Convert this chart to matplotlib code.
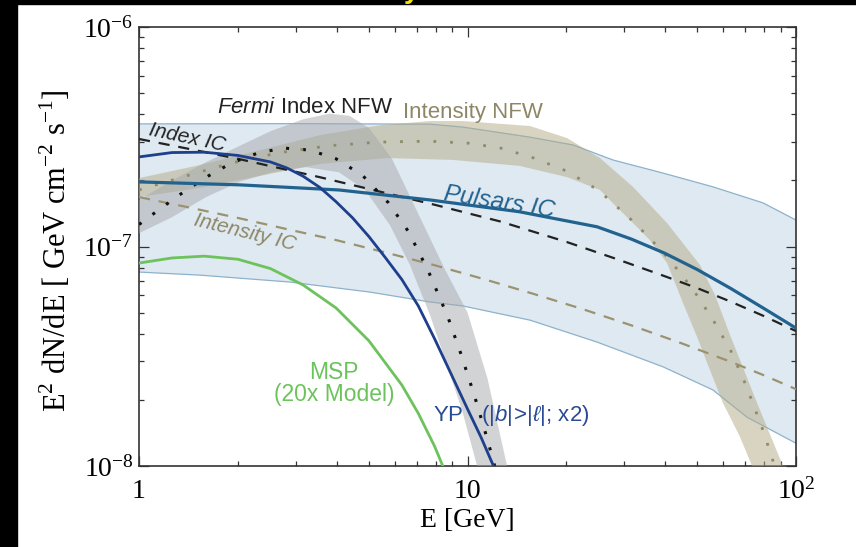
import matplotlib.pyplot as plt
import numpy as np
from matplotlib.patches import Rectangle

plt.rcParams['font.family'] = ['Liberation Serif', 'DejaVu Serif']
plt.rcParams['mathtext.fontset'] = 'custom'
plt.rcParams['mathtext.rm'] = 'Liberation Sans'
plt.rcParams['mathtext.it'] = 'Liberation Sans:italic'

# all fluxes are E^2 dN/dE in units of 1e-7 GeV cm^-2 s^-1, energies in GeV
UNIT = 1e-7

# pulsar IC uncertainty band
blue_hi_E = [1, 3.09, 7.69, 9.69, 15.5, 21.0, 27.7, 39.4, 55.9, 79.4, 100]
blue_hi_F = [3.62, 3.63, 3.61, 3.50, 3.15, 2.90, 2.48, 2.16, 1.87, 1.58, 1.32]
blue_lo_E = [1, 1.53, 2.88, 5.05, 7.69, 9.69, 15.5, 24.8, 39.4, 55.9, 70.9, 100]
blue_lo_F = [0.765, 0.741, 0.689, 0.620, 0.559, 0.536, 0.462, 0.367, 0.283, 0.222, 0.167, 0.127]

pulsars_E = [1, 2.02, 4.06, 7.69, 14.4, 24.8, 31.6, 39.8, 50.1, 63.1, 79.4, 100]
pulsars_F = [1.97, 1.91, 1.81, 1.63, 1.44, 1.23, 1.08, 0.933, 0.785, 0.646, 0.525, 0.425]

index_ic_E = [1, 1.41, 2.00, 3.55, 7.94, 12.6, 20.0, 28.2, 39.8, 50.1, 63.1, 79.4, 100]
index_ic_F = [3.09, 2.79, 2.51, 2.07, 1.55, 1.30, 1.05, 0.881, 0.733, 0.646, 0.562, 0.484, 0.412]

intensity_ic_E = [1, 1.41, 2.00, 2.82, 3.98, 5.62, 7.94, 11.2, 15.8, 22.4, 31.6, 44.7, 63.1, 79.4, 100]
intensity_ic_F = [1.68, 1.51, 1.35, 1.20, 1.07, 0.940, 0.822, 0.711, 0.610, 0.519, 0.437, 0.363, 0.299, 0.260, 0.224]

# Fermi index NFW band and its central spectrum
fermi_hi_E = [1, 1.26, 1.58, 2.00, 2.51, 3.16, 3.80, 4.37, 5.01, 5.89, 7.08, 8.51, 10.0, 11.5, 13.2]
fermi_hi_F = [1.63, 2.00, 2.40, 2.85, 3.35, 3.80, 4.03, 3.94, 3.47, 2.51, 1.41, 0.794, 0.501, 0.251, 0.100]
fermi_lo_E = [1, 1.26, 1.60, 2.02, 2.54, 3.22, 4.06, 4.88, 5.81, 6.68, 7.69, 8.66, 9.62, 10.7]
fermi_lo_F = [1.15, 1.36, 1.68, 1.97, 2.18, 2.30, 2.18, 1.81, 1.25, 0.824, 0.487, 0.288, 0.180, 0.100]
fermi_E = [1, 1.17, 1.38, 1.62, 1.91, 2.29, 2.75, 3.31, 3.98, 4.79, 5.75, 6.61, 7.59, 8.71, 9.55, 10.5, 11.5, 12.1]
fermi_F = [1.26, 1.50, 1.79, 2.09, 2.40, 2.66, 2.81, 2.75, 2.51, 2.11, 1.58, 1.17, 0.776, 0.479, 0.324, 0.209, 0.132, 0.100]

# intensity NFW band and its central spectrum
inten_hi_E = [1, 1.53, 2.34, 3.56, 5.42, 7.69, 9.69, 15.5, 20.1, 25.3, 31.9, 40.5, 51.0, 56.7, 63.0, 76.1, 91.3]
inten_hi_F = [2.05, 2.35, 2.75, 3.22, 3.57, 3.73, 3.73, 3.54, 3.12, 2.53, 1.87, 1.28, 0.824, 0.601, 0.395, 0.194, 0.100]
inten_lo_E = [1, 1.53, 2.34, 3.56, 5.69, 9.03, 14.4, 20.1, 25.3, 28.5, 31.9, 35.9, 40.5, 45.3, 50.0, 54.7, 59.9, 67.5, 73.5]
inten_lo_F = [1.68, 1.85, 2.10, 2.38, 2.53, 2.48, 2.33, 2.07, 1.81, 1.51, 1.28, 1.07, 0.841, 0.553, 0.387, 0.274, 0.194, 0.136, 0.100]
inten_E = [1, 1.38, 1.91, 2.69, 3.80, 5.37, 7.59, 10.0, 12.6, 15.8, 20.0, 25.1, 31.6, 35.5, 39.8, 44.7, 50.1, 56.2, 63.1, 70.8, 79.4, 86.1]
inten_F = [1.81, 2.09, 2.40, 2.68, 2.88, 2.99, 3.02, 2.96, 2.81, 2.54, 2.21, 1.80, 1.32, 1.11, 0.923, 0.750, 0.596, 0.457, 0.339, 0.229, 0.145, 0.100]

yp_E = [1, 1.26, 1.58, 2.00, 2.51, 2.82, 3.16, 3.55, 3.98, 4.47, 5.01, 5.62, 6.31, 7.08, 7.94, 8.91, 10.0, 11.0, 12.0]
yp_F = [2.56, 2.68, 2.69, 2.60, 2.43, 2.28, 2.09, 1.86, 1.60, 1.35, 1.11, 0.891, 0.708, 0.537, 0.380, 0.263, 0.182, 0.135, 0.100]

msp_E = [1, 1.26, 1.58, 2.00, 2.51, 3.16, 3.98, 5.01, 6.31, 7.08, 7.94, 8.41]
msp_F = [0.841, 0.887, 0.904, 0.875, 0.794, 0.668, 0.525, 0.372, 0.234, 0.174, 0.123, 0.100]


def band(ax, hi_E, hi_F, lo_E, lo_F, **kw):
    xs = np.r_[hi_E, lo_E[::-1]]
    ys = np.r_[hi_F, lo_F[::-1]] * UNIT
    ax.fill(xs, ys, **kw)


def curve(ax, E, F, **kw):
    ax.plot(E, np.array(F) * UNIT, **kw)


fig = plt.figure(figsize=(8.56, 5.47), dpi=100, facecolor='white')
ax = fig.add_axes([0.1624, 0.148, 0.7675, 0.8026])

band(ax, blue_hi_E, blue_hi_F, blue_lo_E, blue_lo_F, color='#dfe9f1', lw=0, zorder=1)
curve(ax, blue_hi_E, blue_hi_F, color='#8db2cc', lw=0.9, zorder=2)
curve(ax, blue_lo_E, blue_lo_F, color='#8db2cc', lw=0.9, zorder=2)

band(ax, inten_hi_E, inten_hi_F, inten_lo_E, inten_lo_F, color='#b3ab85', alpha=0.5, lw=0, zorder=3)
band(ax, fermi_hi_E, fermi_hi_F, fermi_lo_E, fermi_lo_F, color='#a6a8ab', alpha=0.5, lw=0, zorder=3)

curve(ax, index_ic_E, index_ic_F, color='#222222', lw=1.6, ls=(0, (5, 4)), zorder=4)
curve(ax, intensity_ic_E, intensity_ic_F, color='#9b9370', lw=1.6, ls=(0, (5, 4)), zorder=4)
curve(ax, fermi_E, fermi_F, color='#111111', lw=2.2, ls=(0, (1, 4.5)), zorder=4)
curve(ax, inten_E, inten_F, color='#8f8a6a', lw=2.0, ls=(0, (1, 5)), zorder=4)
curve(ax, pulsars_E, pulsars_F, color='#22628f', lw=2.3, zorder=5)
curve(ax, yp_E, yp_F, color='#1d3f8c', lw=2.0, zorder=5)
curve(ax, msp_E, msp_F, color='#6cc35c', lw=2.0, zorder=5)

ax.set_xscale('log')
ax.set_yscale('log')
ax.set_xlim(1, 100)
ax.set_ylim(1e-8, 1e-6)
ax.set_xticks([1, 10, 100], ['1', '10', r'$\mathdefault{10^{2}}$'])

ax.tick_params(which='both', direction='in', top=True, right=True, color='#333333', width=0.9)
ax.tick_params(which='major', length=7, labelsize=20)
ax.tick_params(axis='x', which='major', pad=9)
ax.tick_params(axis='y', which='major', pad=4)
ax.tick_params(which='minor', length=3.5)
for s in ax.spines.values():
    s.set_color('#333333')
    s.set_linewidth(1.2)

ax.set_xlabel('E [GeV]', fontsize=20, labelpad=2)
ax.set_ylabel(r'E$^{\mathdefault{2}}$ dN/dE [ GeV cm$^{\mathdefault{-2}}$ s$^{\mathdefault{-1}}$]',
              fontsize=22)
ax.yaxis.set_label_coords(-0.1, 0.49)

sans = 'Liberation Sans'
ax.text(0.119, 0.804, r'$\mathit{Fermi}$ Index NFW', transform=ax.transAxes, family=sans,
        fontsize=16, color='#222222', ha='left', va='baseline', zorder=6)
ax.text(0.402, 0.793, 'Intensity NFW', transform=ax.transAxes, family=sans,
        fontsize=16, color='#8e8766', ha='left', va='baseline', zorder=6)
ax.text(0.073, 0.747, 'Index IC', transform=ax.transAxes, family=sans, style='italic',
        fontsize=15, color='#222222', ha='center', va='center', rotation=-12,
        rotation_mode='anchor', zorder=6)
ax.text(0.161, 0.533, 'Intensity IC', transform=ax.transAxes, family=sans, style='italic',
        fontsize=15, color='#8e8766', ha='center', va='center', rotation=-14,
        rotation_mode='anchor', zorder=6)
ax.text(0.549, 0.601, 'Pulsars IC', transform=ax.transAxes, family=sans, style='italic',
        fontsize=17.5, color='#22628f', ha='center', va='center', rotation=-9,
        rotation_mode='anchor', zorder=6)
ax.text(0.297, 0.189, 'MSP\n(20x Model)', transform=ax.transAxes, family=sans,
        fontsize=16.5, color='#6cc35c', ha='center', va='center', linespacing=0.95, zorder=6)
ax.text(0.4475, 0.116, r'YP   ($|b|\!>\!|\ell|$; x2)', transform=ax.transAxes, family=sans,
        fontsize=16, color='#2a4a93', ha='left', va='center', zorder=6)

# dark frame strips along the left and top edges
fig.patches.append(Rectangle((0, 0), 17 / 856, 1, transform=fig.transFigure,
                             color='black', zorder=10))
fig.patches.append(Rectangle((0, 1 - 4 / 547), 1, 4 / 547, transform=fig.transFigure,
                             color='black', zorder=10))
fig.text(412 / 856, 1 + 2 / 547, 'y', color='#f5e400', fontsize=20, fontweight='bold',
         family=sans, ha='center', va='baseline', zorder=11)

fig.savefig('out.png', dpi=100, facecolor='white')
